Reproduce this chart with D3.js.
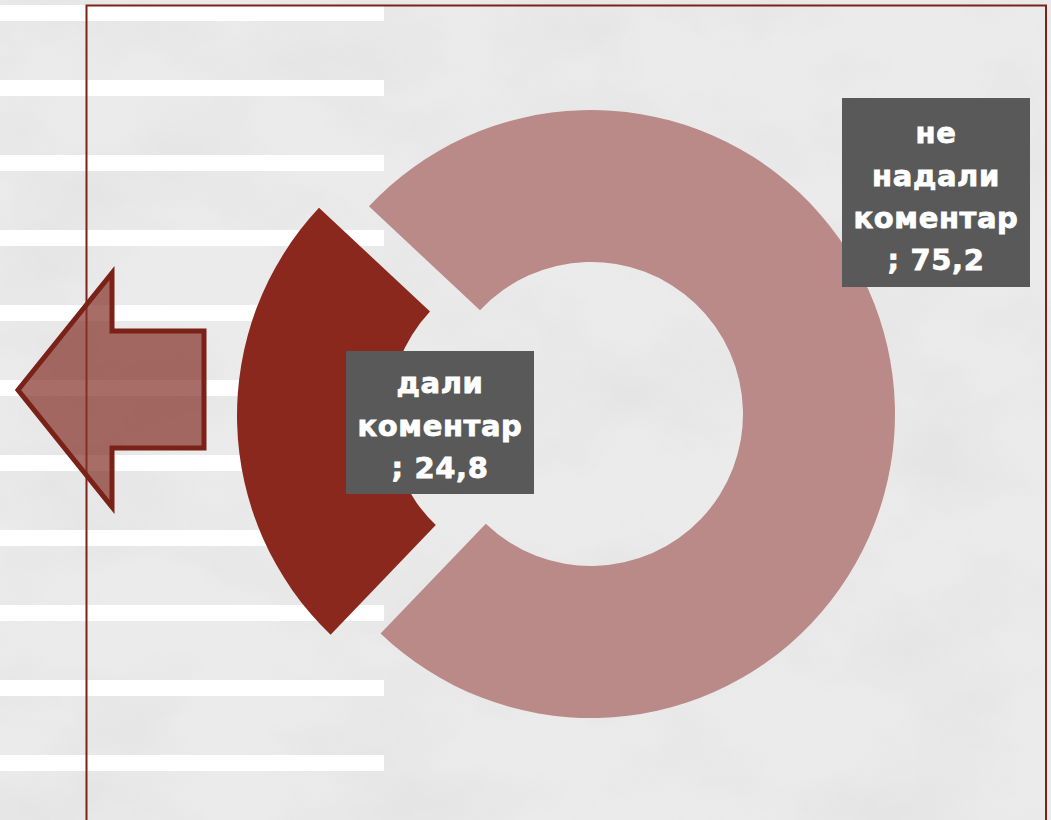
<!DOCTYPE html>
<html>
<head>
<meta charset="utf-8">
<script src="https://cdn.jsdelivr.net/npm/d3@7"></script>
<style>
  html, body { margin: 0; padding: 0; background: #e9e9e9; }
  svg { display: block; }
</style>
</head>
<body>
<svg id="chart" width="1051" height="820"></svg>
<script>
// ---- data ----
const categories = ["дали коментар", "не надали коментар"];
const values = [24.8, 75.2];
const valueLabels = ["24,8", "75,2"];
const labelLines = [["дали", "коментар", "; 24,8"], ["не", "надали", "коментар", "; 75,2"]];
const colors = ["#8a281d", "#b98a87"];

const W = 1051, H = 820;
const svg = d3.select("#chart");
const defs = svg.append("defs");

// paper texture
const f = defs.append("filter").attr("id", "paper").attr("x", 0).attr("y", 0).attr("width", "100%").attr("height", "100%");
f.append("feTurbulence").attr("type", "fractalNoise").attr("baseFrequency", "0.006 0.009").attr("numOctaves", 4).attr("seed", 7).attr("result", "noise");
f.append("feColorMatrix").attr("in", "noise").attr("type", "matrix")
  .attr("values", "0 0 0 0 0.5  0 0 0 0 0.5  0 0 0 0 0.5  0.9 0 0 0 -0.35").attr("result", "shade");
svg.append("rect").attr("width", W).attr("height", H).attr("fill", "#ebebeb");
svg.append("rect").attr("width", W).attr("height", H).attr("fill", "#fff").attr("filter", "url(#paper)").attr("opacity", 0.35);

// white stripes
const stripeY = d3.range(11).map(i => 5 + i * 75);
svg.append("g").selectAll("rect").data(stripeY).join("rect")
  .attr("x", 0).attr("y", d => d).attr("width", 384).attr("height", 16).attr("fill", "#ffffff");

// frame
const frame = svg.append("g").attr("fill", "none").attr("stroke", "#7b2318").attr("stroke-width", 2);
frame.append("path").attr("d", `M86.5,${H + 5} V5.5 H1046 V${H + 5}`);

// arrow
const arrowPts = [[18, 390], [112, 273], [112, 331], [204, 331], [204, 448], [112, 448], [112, 507]];
svg.append("polygon")
  .attr("points", arrowPts.map(p => p.join(",")).join(" "))
  .attr("fill", "#86342b").attr("fill-opacity", 0.72)
  .attr("stroke", "#7a2118").attr("stroke-width", 5).attr("stroke-linejoin", "miter");

// donut
const cx = 591, cy = 414, outerR = 304, innerR = 152, explode = 50;
const start = 223.8 * Math.PI / 180;
const pie = d3.pie().sort(null).startAngle(start).endAngle(start + 2 * Math.PI);
const arcs = pie(values);
const arc = d3.arc().innerRadius(innerR).outerRadius(outerR);
const g = svg.append("g").attr("transform", `translate(${cx},${cy})`);
g.selectAll("path").data(arcs).join("path")
  .attr("d", arc)
  .attr("fill", (d, i) => colors[i])
  .attr("transform", (d, i) => {
    if (i !== 0) return null;
    const m = (d.startAngle + d.endAngle) / 2;
    return `translate(${Math.sin(m) * explode},${-Math.cos(m) * explode})`;
  });

// labels
const boxes = [
  { x: 346, y: 351, w: 188, h: 143, first: 383 },
  { x: 842, y: 98, w: 188, h: 189, first: 133 }
];
const lineH = 42.3;
boxes.forEach((b, i) => {
  const lg = svg.append("g");
  lg.append("rect").attr("x", b.x).attr("y", b.y).attr("width", b.w).attr("height", b.h).attr("fill", "#595959");
  lg.append("text")
    .attr("font-family", "'DejaVu Sans', Verdana, sans-serif")
    .attr("font-weight", "bold").attr("font-size", 29).attr("fill", "#ffffff")
    .attr("stroke", "#ffffff").attr("stroke-width", 0.8)
    .attr("letter-spacing", 0.6)
    .attr("text-anchor", "middle")
    .selectAll("tspan").data(labelLines[i]).join("tspan")
    .attr("x", b.x + b.w / 2)
    .attr("y", (d, j) => b.first + j * lineH)
    .attr("dy", "0.36em")
    .text(d => d);
});
</script>
</body>
</html>
